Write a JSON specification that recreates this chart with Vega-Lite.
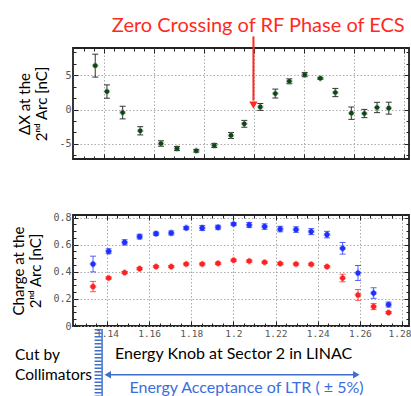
{
  "$schema": "https://vega.github.io/schema/vega-lite/v6.json",
  "padding": {"left": 11, "top": 15, "right": 0, "bottom": 0},
  "spacing": 49,
  "background": "white",
  "config": {
    "view": {"stroke": "#222", "strokeWidth": 1.8},
    "axis": {"domain": false, "labelFont": "DejaVu Sans Mono", "labelFontSize": 10, "labelColor": "#555", "tickColor": "#222", "tickWidth": 1, "gridColor": "#aaa", "gridDash": [1.5, 2], "labelOverlap": false, "labelFlush": false, "titleFont": "Lato", "titleFontSize": 15, "titleFontWeight": "normal", "titleColor": "#000", "titleLineHeight": 17}
  },
  "datasets": {
    "top": [
      {"knob": 1.13445, "dx": 6.4, "lo": 4.73, "hi": 8.07},
      {"knob": 1.14, "dx": 2.62, "lo": 1.65, "hi": 3.59},
      {"knob": 1.14745, "dx": -0.44, "lo": -1.36, "hi": 0.48},
      {"knob": 1.1558, "dx": -3.1, "lo": -3.7, "hi": -2.5},
      {"knob": 1.16563, "dx": -4.95, "lo": -5.35, "hi": -4.55},
      {"knob": 1.17322, "dx": -5.68, "lo": -5.98, "hi": -5.38},
      {"knob": 1.18238, "dx": -6.01, "lo": -6.21, "hi": -5.81},
      {"knob": 1.19093, "dx": -5.24, "lo": -5.54, "hi": -4.94},
      {"knob": 1.19885, "dx": -3.78, "lo": -4.22, "hi": -3.34},
      {"knob": 1.20516, "dx": -2.08, "lo": -2.58, "hi": -1.58},
      {"knob": 1.21276, "dx": 0.38, "lo": -0.12, "hi": 0.88},
      {"knob": 1.21988, "dx": 2.33, "lo": 1.68, "hi": 2.98},
      {"knob": 1.22652, "dx": 4.12, "lo": 3.76, "hi": 4.48},
      {"knob": 1.23383, "dx": 5.08, "lo": 4.78, "hi": 5.38},
      {"knob": 1.24123, "dx": 4.55, "lo": 4.4, "hi": 4.7},
      {"knob": 1.24835, "dx": 2.48, "lo": 1.88, "hi": 3.08},
      {"knob": 1.25595, "dx": -0.53, "lo": -1.43, "hi": 0.37},
      {"knob": 1.26212, "dx": -0.58, "lo": -1.18, "hi": 0.02},
      {"knob": 1.26814, "dx": 0.3, "lo": -0.45, "hi": 1.05},
      {"knob": 1.2737, "dx": 0.2, "lo": -0.67, "hi": 1.07}
    ],
    "charge": [
      {"group": "upper", "knob": 1.1334, "charge": 0.457, "lo": 0.399, "hi": 0.515},
      {"group": "upper", "knob": 1.1408, "charge": 0.551, "lo": 0.533, "hi": 0.569},
      {"group": "upper", "knob": 1.1484, "charge": 0.617, "lo": 0.598, "hi": 0.636},
      {"group": "upper", "knob": 1.1555, "charge": 0.659, "lo": 0.642, "hi": 0.676},
      {"group": "upper", "knob": 1.1633, "charge": 0.681, "lo": 0.669, "hi": 0.693},
      {"group": "upper", "knob": 1.1705, "charge": 0.686, "lo": 0.671, "hi": 0.701},
      {"group": "upper", "knob": 1.1776, "charge": 0.723, "lo": 0.711, "hi": 0.735},
      {"group": "upper", "knob": 1.1852, "charge": 0.723, "lo": 0.705, "hi": 0.741},
      {"group": "upper", "knob": 1.1927, "charge": 0.728, "lo": 0.713, "hi": 0.743},
      {"group": "upper", "knob": 1.2001, "charge": 0.752, "lo": 0.742, "hi": 0.762},
      {"group": "upper", "knob": 1.2075, "charge": 0.745, "lo": 0.727, "hi": 0.763},
      {"group": "upper", "knob": 1.2148, "charge": 0.733, "lo": 0.713, "hi": 0.753},
      {"group": "upper", "knob": 1.2222, "charge": 0.715, "lo": 0.695, "hi": 0.735},
      {"group": "upper", "knob": 1.2297, "charge": 0.711, "lo": 0.691, "hi": 0.731},
      {"group": "upper", "knob": 1.2369, "charge": 0.696, "lo": 0.674, "hi": 0.718},
      {"group": "upper", "knob": 1.2444, "charge": 0.674, "lo": 0.65, "hi": 0.698},
      {"group": "upper", "knob": 1.2518, "charge": 0.573, "lo": 0.53, "hi": 0.616},
      {"group": "upper", "knob": 1.2591, "charge": 0.391, "lo": 0.336, "hi": 0.446},
      {"group": "upper", "knob": 1.2665, "charge": 0.243, "lo": 0.204, "hi": 0.282},
      {"group": "upper", "knob": 1.2736, "charge": 0.158, "lo": 0.14, "hi": 0.176},
      {"group": "lower", "knob": 1.1334, "charge": 0.291, "lo": 0.253, "hi": 0.329},
      {"group": "lower", "knob": 1.1408, "charge": 0.354, "lo": 0.346, "hi": 0.362},
      {"group": "lower", "knob": 1.1484, "charge": 0.394, "lo": 0.386, "hi": 0.402},
      {"group": "lower", "knob": 1.1555, "charge": 0.423, "lo": 0.415, "hi": 0.431},
      {"group": "lower", "knob": 1.1633, "charge": 0.438, "lo": 0.43, "hi": 0.446},
      {"group": "lower", "knob": 1.1705, "charge": 0.438, "lo": 0.43, "hi": 0.446},
      {"group": "lower", "knob": 1.1776, "charge": 0.457, "lo": 0.449, "hi": 0.465},
      {"group": "lower", "knob": 1.1852, "charge": 0.457, "lo": 0.449, "hi": 0.465},
      {"group": "lower", "knob": 1.1927, "charge": 0.462, "lo": 0.454, "hi": 0.47},
      {"group": "lower", "knob": 1.2001, "charge": 0.485, "lo": 0.477, "hi": 0.493},
      {"group": "lower", "knob": 1.2075, "charge": 0.479, "lo": 0.471, "hi": 0.487},
      {"group": "lower", "knob": 1.2148, "charge": 0.47, "lo": 0.462, "hi": 0.478},
      {"group": "lower", "knob": 1.2222, "charge": 0.46, "lo": 0.452, "hi": 0.468},
      {"group": "lower", "knob": 1.2297, "charge": 0.457, "lo": 0.449, "hi": 0.465},
      {"group": "lower", "knob": 1.2369, "charge": 0.455, "lo": 0.447, "hi": 0.463},
      {"group": "lower", "knob": 1.2444, "charge": 0.438, "lo": 0.43, "hi": 0.446},
      {"group": "lower", "knob": 1.2518, "charge": 0.354, "lo": 0.326, "hi": 0.382},
      {"group": "lower", "knob": 1.2591, "charge": 0.229, "lo": 0.189, "hi": 0.269},
      {"group": "lower", "knob": 1.2665, "charge": 0.143, "lo": 0.121, "hi": 0.165},
      {"group": "lower", "knob": 1.2736, "charge": 0.099, "lo": 0.091, "hi": 0.107}
    ]
  },
  "vconcat": [
    {
      "width": 336,
      "height": 111,
      "data": {"name": "top"},
      "layer": [
        {
          "mark": {"type": "rule", "color": "#333", "strokeWidth": 1},
          "encoding": {
            "x": {"field": "knob", "type": "quantitative", "scale": {"domain": [1.1239, 1.2833], "nice": false, "zero": false},
              "axis": {"orient": "bottom", "title": null, "labels": false,
                "values": [1.12898,1.13372,1.13847,1.14322,1.14796,1.15271,1.15745,1.1622,1.16695,1.17169,1.17644,1.18118,1.18593,1.19068,1.19542,1.20017,1.20491,1.20966,1.21441,1.21915,1.2239,1.22864,1.23339,1.23814,1.24288,1.24763,1.25237,1.25712,1.26187,1.26661,1.27136,1.2761,1.28085],
                "tickSize": {"condition": {"test": "indexof([1.13847,1.1622,1.18593,1.20966,1.23339,1.25712,1.28085], datum.value) >= 0", "value": -5}, "value": -3},
                "grid": true,
                "gridOpacity": {"condition": {"test": "indexof([1.13847,1.1622,1.18593,1.20966,1.23339,1.25712,1.28085], datum.value) >= 0", "value": 1}, "value": 0}}},
            "y": {"field": "lo", "type": "quantitative", "scale": {"domain": [-7.21, 8.97], "nice": false, "zero": false},
              "axis": {"orient": "left", "title": ["ΔX at the", "2ⁿᵈ Arc [nC]"], "titlePadding": 9, "labelPadding": 7,
                "values": [-6.6667,-5,-3.3333,-1.6667,0,1.6667,3.3333,5,6.6667,8.3333],
                "labelExpr": "datum.value == 5 ? '5' : datum.value == 0 ? '0' : datum.value == -5 ? '-5' : ''",
                "tickSize": {"condition": {"test": "datum.value == 5 || datum.value == 0 || datum.value == -5", "value": -5}, "value": -3},
                "grid": true,
                "gridOpacity": {"condition": {"test": "datum.value == 5 || datum.value == 0 || datum.value == -5", "value": 1}, "value": 0}}},
            "y2": {"field": "hi"}
          }
        },
        {
          "mark": {"type": "tick", "orient": "horizontal", "size": 6, "thickness": 1, "color": "#333", "opacity": 1},
          "encoding": {
            "x": {"field": "knob", "type": "quantitative", "scale": {"domain": [1.1239, 1.2833], "nice": false, "zero": false},
              "axis": {"orient": "top", "title": null, "labels": false, "grid": false,
                "values": [1.12898,1.13372,1.13847,1.14322,1.14796,1.15271,1.15745,1.1622,1.16695,1.17169,1.17644,1.18118,1.18593,1.19068,1.19542,1.20017,1.20491,1.20966,1.21441,1.21915,1.2239,1.22864,1.23339,1.23814,1.24288,1.24763,1.25237,1.25712,1.26187,1.26661,1.27136,1.2761,1.28085],
                "tickSize": {"condition": {"test": "indexof([1.13847,1.1622,1.18593,1.20966,1.23339,1.25712,1.28085], datum.value) >= 0", "value": -5}, "value": -3}}},
            "y": {"field": "lo", "type": "quantitative", "scale": {"domain": [-7.21, 8.97], "nice": false, "zero": false},
              "axis": {"orient": "right", "title": null, "labels": false, "grid": false,
                "values": [-6.6667,-5,-3.3333,-1.6667,0,1.6667,3.3333,5,6.6667,8.3333],
                "tickSize": {"condition": {"test": "datum.value == 5 || datum.value == 0 || datum.value == -5", "value": -5}, "value": -3}}}
          }
        },
        {
          "mark": {"type": "tick", "orient": "horizontal", "size": 6, "thickness": 1, "color": "#333", "opacity": 1},
          "encoding": {
            "x": {"field": "knob", "type": "quantitative", "scale": {"domain": [1.1239, 1.2833], "nice": false, "zero": false}, "axis": null},
            "y": {"field": "hi", "type": "quantitative", "scale": {"domain": [-7.21, 8.97], "nice": false, "zero": false}, "axis": null}
          }
        },
        {
          "mark": {"type": "point", "shape": "cross", "filled": true, "color": "#888", "opacity": 0.55, "size": 42},
          "encoding": {
            "x": {"field": "knob", "type": "quantitative", "scale": {"domain": [1.1239, 1.2833], "nice": false, "zero": false}, "axis": null},
            "y": {"field": "dx", "type": "quantitative", "scale": {"domain": [-7.21, 8.97], "nice": false, "zero": false}, "axis": null}
          }
        },
        {
          "mark": {"type": "point", "shape": "circle", "filled": true, "color": "#0b4a12", "opacity": 1, "size": 22},
          "encoding": {
            "x": {"field": "knob", "type": "quantitative", "scale": {"domain": [1.1239, 1.2833], "nice": false, "zero": false}, "axis": null},
            "y": {"field": "dx", "type": "quantitative", "scale": {"domain": [-7.21, 8.97], "nice": false, "zero": false}, "axis": null}
          }
        },
        {
          "data": {"values": [{"knob": 1.2118, "dx": 12.12, "label": "Zero Crossing of RF Phase of ECS"}]},
          "mark": {"type": "text", "font": "Lato", "fontSize": 20, "color": "#ff2a1f"},
          "encoding": {
            "x": {"field": "knob", "type": "quantitative", "scale": {"domain": [1.1239, 1.2833], "nice": false, "zero": false}, "axis": null},
            "y": {"field": "dx", "type": "quantitative", "scale": {"domain": [-7.21, 8.97], "nice": false, "zero": false}, "axis": null},
            "text": {"field": "label"}
          }
        },
        {
          "data": {"values": [{"knob": 1.2095, "from": 10.66, "to": 1.3}]},
          "mark": {"type": "rule", "color": "#ff2a1f", "strokeWidth": 2},
          "encoding": {
            "x": {"field": "knob", "type": "quantitative", "scale": {"domain": [1.1239, 1.2833], "nice": false, "zero": false}, "axis": null},
            "y": {"field": "from", "type": "quantitative", "scale": {"domain": [-7.21, 8.97], "nice": false, "zero": false}, "axis": null},
            "y2": {"field": "to"}
          }
        },
        {
          "data": {"values": [{"knob": 1.2095, "tip": 0.65}]},
          "mark": {"type": "point", "shape": "triangle-down", "filled": true, "color": "#ff2a1f", "opacity": 1, "size": 70},
          "encoding": {
            "x": {"field": "knob", "type": "quantitative", "scale": {"domain": [1.1239, 1.2833], "nice": false, "zero": false}, "axis": null},
            "y": {"field": "tip", "type": "quantitative", "scale": {"domain": [-7.21, 8.97], "nice": false, "zero": false}, "axis": null}
          }
        }
      ],
      "resolve": {"axis": {"x": "independent", "y": "independent"}}
    },
    {
      "width": 336,
      "height": 111,
      "data": {"name": "charge"},
      "layer": [
        {
          "mark": {"type": "rule", "strokeWidth": 1, "opacity": 0.75},
          "encoding": {
            "x": {"field": "knob", "type": "quantitative", "scale": {"domain": [1.1239, 1.2833], "nice": false, "zero": false},
              "axis": {"orient": "bottom", "title": null, "labelPadding": 7, "labelFontSize": 9.5,
                "labelOffset": {"condition": {"test": "datum.value > 1.279", "value": -2.5}, "value": 0},
                "values": [1.125,1.13,1.135,1.14,1.145,1.15,1.155,1.16,1.165,1.17,1.175,1.18,1.185,1.19,1.195,1.2,1.205,1.21,1.215,1.22,1.225,1.23,1.235,1.24,1.245,1.25,1.255,1.26,1.265,1.27,1.275,1.28],
                "labelExpr": "abs(datum.value*50 - round(datum.value*50)) < 1e-6 ? format(datum.value, '~g') : ''",
                "tickSize": {"condition": {"test": "abs(datum.value*50 - round(datum.value*50)) < 1e-6", "value": -5}, "value": -3},
                "grid": true,
                "gridOpacity": {"condition": {"test": "abs(datum.value*50 - round(datum.value*50)) < 1e-6", "value": 1}, "value": 0}}},
            "y": {"field": "lo", "type": "quantitative", "scale": {"domain": [0, 0.8185], "nice": false, "zero": false},
              "axis": {"orient": "left", "title": ["Charge at the", "2ⁿᵈ Arc [nC]"], "titlePadding": 9, "labelPadding": 7,
                "values": [0,0.05,0.1,0.15,0.2,0.25,0.3,0.35,0.4,0.45,0.5,0.55,0.6,0.65,0.7,0.75,0.8],
                "labelExpr": "abs(datum.value*5 - round(datum.value*5)) < 1e-6 ? format(datum.value, '~g') : ''",
                "tickSize": {"condition": {"test": "abs(datum.value*5 - round(datum.value*5)) < 1e-6", "value": -5}, "value": -3},
                "grid": true,
                "gridOpacity": {"condition": {"test": "abs(datum.value*5 - round(datum.value*5)) < 1e-6", "value": 1}, "value": 0}}},
            "y2": {"field": "hi"},
            "color": {"field": "group", "type": "nominal", "scale": {"domain": ["upper", "lower"], "range": ["#1f2fff", "#ff2020"]}, "legend": null}
          }
        },
        {
          "mark": {"type": "tick", "orient": "horizontal", "size": 6, "thickness": 1, "opacity": 0.75},
          "encoding": {
            "x": {"field": "knob", "type": "quantitative", "scale": {"domain": [1.1239, 1.2833], "nice": false, "zero": false},
              "axis": {"orient": "top", "title": null, "labels": false, "grid": false,
                "values": [1.125,1.13,1.135,1.14,1.145,1.15,1.155,1.16,1.165,1.17,1.175,1.18,1.185,1.19,1.195,1.2,1.205,1.21,1.215,1.22,1.225,1.23,1.235,1.24,1.245,1.25,1.255,1.26,1.265,1.27,1.275,1.28],
                "tickSize": {"condition": {"test": "abs(datum.value*50 - round(datum.value*50)) < 1e-6", "value": -5}, "value": -3}}},
            "y": {"field": "lo", "type": "quantitative", "scale": {"domain": [0, 0.8185], "nice": false, "zero": false},
              "axis": {"orient": "right", "title": null, "labels": false, "grid": false,
                "values": [0,0.05,0.1,0.15,0.2,0.25,0.3,0.35,0.4,0.45,0.5,0.55,0.6,0.65,0.7,0.75,0.8],
                "tickSize": {"condition": {"test": "abs(datum.value*5 - round(datum.value*5)) < 1e-6", "value": -5}, "value": -3}}},
            "color": {"field": "group", "type": "nominal", "scale": {"domain": ["upper", "lower"], "range": ["#1f2fff", "#ff2020"]}, "legend": null}
          }
        },
        {
          "mark": {"type": "tick", "orient": "horizontal", "size": 6, "thickness": 1, "opacity": 0.75},
          "encoding": {
            "x": {"field": "knob", "type": "quantitative", "scale": {"domain": [1.1239, 1.2833], "nice": false, "zero": false}, "axis": null},
            "y": {"field": "hi", "type": "quantitative", "scale": {"domain": [0, 0.8185], "nice": false, "zero": false}, "axis": null},
            "color": {"field": "group", "type": "nominal", "scale": {"domain": ["upper", "lower"], "range": ["#1f2fff", "#ff2020"]}, "legend": null}
          }
        },
        {
          "mark": {"type": "point", "shape": "cross", "filled": true, "opacity": 0.4, "size": 45},
          "encoding": {
            "x": {"field": "knob", "type": "quantitative", "scale": {"domain": [1.1239, 1.2833], "nice": false, "zero": false}, "axis": null},
            "y": {"field": "charge", "type": "quantitative", "scale": {"domain": [0, 0.8185], "nice": false, "zero": false}, "axis": null},
            "color": {"field": "group", "type": "nominal", "scale": {"domain": ["upper", "lower"], "range": ["#1f2fff", "#ff2020"]}, "legend": null}
          }
        },
        {
          "mark": {"type": "point", "shape": "circle", "filled": true, "opacity": 1, "size": 26},
          "encoding": {
            "x": {"field": "knob", "type": "quantitative", "scale": {"domain": [1.1239, 1.2833], "nice": false, "zero": false}, "axis": null},
            "y": {"field": "charge", "type": "quantitative", "scale": {"domain": [0, 0.8185], "nice": false, "zero": false}, "axis": null},
            "color": {"field": "group", "type": "nominal", "scale": {"domain": ["upper", "lower"], "range": ["#1f2fff", "#ff2020"]}, "legend": null}
          }
        },
        {
          "data": {"values": [{"knob": 1.1358, "from": -0.022, "to": -0.53}]},
          "mark": {"type": "rule", "color": "#3f6fc6", "strokeWidth": 7, "strokeDash": [1.5, 2]},
          "encoding": {
            "x": {"field": "knob", "type": "quantitative", "scale": {"domain": [1.1239, 1.2833], "nice": false, "zero": false}, "axis": null},
            "y": {"field": "from", "type": "quantitative", "scale": {"domain": [0, 0.8185], "nice": false, "zero": false}, "axis": null},
            "y2": {"field": "to"}
          }
        },
        {
          "data": {"values": [{"knob": 1.1377, "from": -0.022, "to": -0.53}]},
          "mark": {"type": "rule", "color": "#3f6fc6", "strokeWidth": 1.5},
          "encoding": {
            "x": {"field": "knob", "type": "quantitative", "scale": {"domain": [1.1239, 1.2833], "nice": false, "zero": false}, "axis": null},
            "y": {"field": "from", "type": "quantitative", "scale": {"domain": [0, 0.8185], "nice": false, "zero": false}, "axis": null},
            "y2": {"field": "to"}
          }
        },
        {
          "data": {"values": [{"knob": 1.2001, "charge": -0.21, "label": "Energy Knob at Sector 2 in LINAC"}]},
          "mark": {"type": "text", "font": "Lato", "fontSize": 16, "color": "#000"},
          "encoding": {
            "x": {"field": "knob", "type": "quantitative", "scale": {"domain": [1.1239, 1.2833], "nice": false, "zero": false}, "axis": null},
            "y": {"field": "charge", "type": "quantitative", "scale": {"domain": [0, 0.8185], "nice": false, "zero": false}, "axis": null},
            "text": {"field": "label"}
          }
        },
        {
          "data": {"values": [{"knob": 1.0964, "charge": -0.215, "label": "Cut by"}, {"knob": 1.0964, "charge": -0.362, "label": "Collimators"}]},
          "mark": {"type": "text", "font": "Lato", "fontSize": 15.5, "color": "#000", "align": "left"},
          "encoding": {
            "x": {"field": "knob", "type": "quantitative", "scale": {"domain": [1.1239, 1.2833], "nice": false, "zero": false}, "axis": null},
            "y": {"field": "charge", "type": "quantitative", "scale": {"domain": [0, 0.8185], "nice": false, "zero": false}, "axis": null},
            "text": {"field": "label"}
          }
        },
        {
          "data": {"values": [{"knob": 1.1402, "knob2": 1.2582, "charge": -0.36}]},
          "mark": {"type": "rule", "color": "#3f6fc6", "strokeWidth": 1.5},
          "encoding": {
            "x": {"field": "knob", "type": "quantitative", "scale": {"domain": [1.1239, 1.2833], "nice": false, "zero": false}, "axis": null},
            "x2": {"field": "knob2"},
            "y": {"field": "charge", "type": "quantitative", "scale": {"domain": [0, 0.8185], "nice": false, "zero": false}, "axis": null}
          }
        },
        {
          "data": {"values": [{"knob": 1.1404, "charge": -0.36, "dir": "left"}, {"knob": 1.2583, "charge": -0.36, "dir": "right"}]},
          "mark": {"type": "point", "filled": true, "color": "#3f6fc6", "opacity": 1, "size": 55},
          "encoding": {
            "x": {"field": "knob", "type": "quantitative", "scale": {"domain": [1.1239, 1.2833], "nice": false, "zero": false}, "axis": null},
            "y": {"field": "charge", "type": "quantitative", "scale": {"domain": [0, 0.8185], "nice": false, "zero": false}, "axis": null},
            "shape": {"field": "dir", "type": "nominal", "scale": {"domain": ["left", "right"], "range": ["triangle-left", "triangle-right"]}, "legend": null}
          }
        },
        {
          "data": {"values": [{"knob": 1.2062, "charge": -0.455, "label": "Energy Acceptance of LTR ( ± 5%)"}]},
          "mark": {"type": "text", "font": "Lato", "fontSize": 16, "color": "#3a6ee0"},
          "encoding": {
            "x": {"field": "knob", "type": "quantitative", "scale": {"domain": [1.1239, 1.2833], "nice": false, "zero": false}, "axis": null},
            "y": {"field": "charge", "type": "quantitative", "scale": {"domain": [0, 0.8185], "nice": false, "zero": false}, "axis": null},
            "text": {"field": "label"}
          }
        }
      ],
      "resolve": {"axis": {"x": "independent", "y": "independent"}}
    }
  ]
}
